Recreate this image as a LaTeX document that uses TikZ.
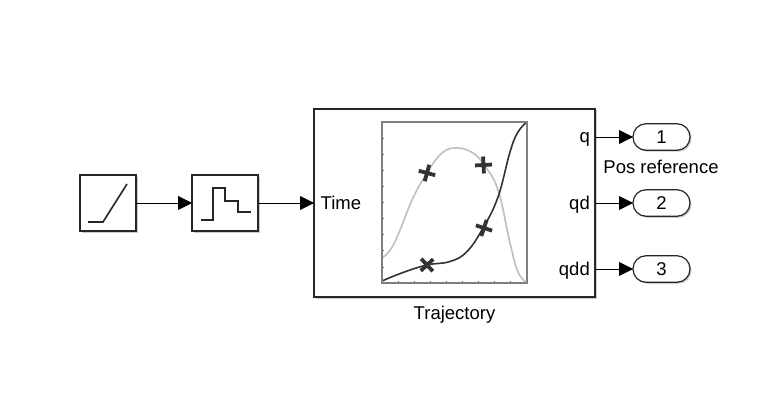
\documentclass[tikz,border=0pt]{standalone}
\usepackage{fontspec}
\setmainfont{Liberation Sans}
\usetikzlibrary{arrows.meta,shadows}

\tikzset{
    block/.style={rectangle,draw=black!85,line width=1.5pt,fill=white,inner sep=0pt,outer sep=0pt,
                  drop shadow={shadow xshift=1.5pt,shadow yshift=-1.5pt,fill=black!40,opacity=0.5}},
    port/.style={block,line width=1.2pt,minimum width=57pt,minimum height=26.5pt,rounded corners=13pt},
    label/.style={font=\fontsize{18.5}{20}\selectfont,inner sep=0pt}
}

\begin{document}
\begin{tikzpicture}[x=1pt,y=-1pt]
\useasboundingbox (0,0) rectangle (779,401);

\begin{scope}[every node/.style={block}]
    \node (ramp) at (108,203) [minimum width=56pt,minimum height=56pt] {};
    \node (stair) at (225,203) [minimum width=66pt,minimum height=56pt] {};
    \node (traj) at (454.5,203) [minimum width=281pt,minimum height=188pt] {};
\end{scope}

\begin{scope}[every node/.style={port,label}]
    \node (out1) at (661.5,137) {1};
    \node (out2) at (661.5,203) {2};
    \node (out3) at (661.5,269) {3};
\end{scope}

\coordinate (q) at (595,137);
\coordinate (qd) at (595,203);
\coordinate (qdd) at (595,269);

\begin{scope}[every node/.style={label}]
    \node [anchor=west] (time) at (320.5,203) {Time};
    \node [anchor=east] (qlabel) at (590,139) {q};
    \node [anchor=east] (qdlabel) at (590,204.5) {qd};
    \node [anchor=east] (qddlabel) at (590,270.5) {qdd};
    \node (trajname) at (454.5,315) {Trajectory};
    \node (posref) at (661,167) {Pos reference};
\end{scope}

\begin{scope}[>={Triangle[black,length=14pt,width=14pt]},
              every edge/.style={draw=black,line width=0.9pt}]
    \path [->] (ramp) edge (stair);
    \path [->] (stair) edge (traj);
    \path [->] (q) edge (out1);
    \path [->] (qd) edge (out2);
    \path [->] (qdd) edge (out3);
\end{scope}

\draw [line width=1.6pt,black!85] (88,222) -- (103,222) -- (127,184);
\draw [line width=1.6pt,black!85] (201,220) -- (212.7,220) -- (212.7,188) -- (225,188)
    -- (225,201) -- (238,201) -- (238,212) -- (251,212);

\foreach \i in {1,...,9}
    \draw [black!60,line width=0.8pt] (381.5,122+16.1*\i) -- (384,122+16.1*\i);
\foreach \i in {1,...,8}
    \draw [black!60,line width=0.8pt] (382+16.1*\i,283) -- (382+16.1*\i,280.5);

\draw [black!25,line width=1.6pt] plot [smooth,tension=0.7] coordinates {(382,258) (391,249) (400,230)
    (413,198) (427,173) (442,153) (457,148) (473,153) (484,165) (498,190) (510,243) (518,272) (527,283)};
\draw [black!80,line width=1.6pt] plot [smooth,tension=0.7] coordinates {(382,281) (403,272.5) (427,265)
    (450,261.5) (467,251.5) (483,228) (498,197) (510,152) (518,132) (527,122)};
\draw [black!50,line width=2pt] (381.5,122) rectangle (527,283);

\foreach \px/\py/\ang in {427/173/-15,483.5/165/3,484/228/-18,427/265/43}
    \draw [black!80,line width=3.8pt,rotate around={\ang:(\px,\py)}]
        (\px-8.5,\py) -- (\px+8.5,\py) (\px,\py-8.5) -- (\px,\py+8.5);
\end{tikzpicture}
\end{document}
